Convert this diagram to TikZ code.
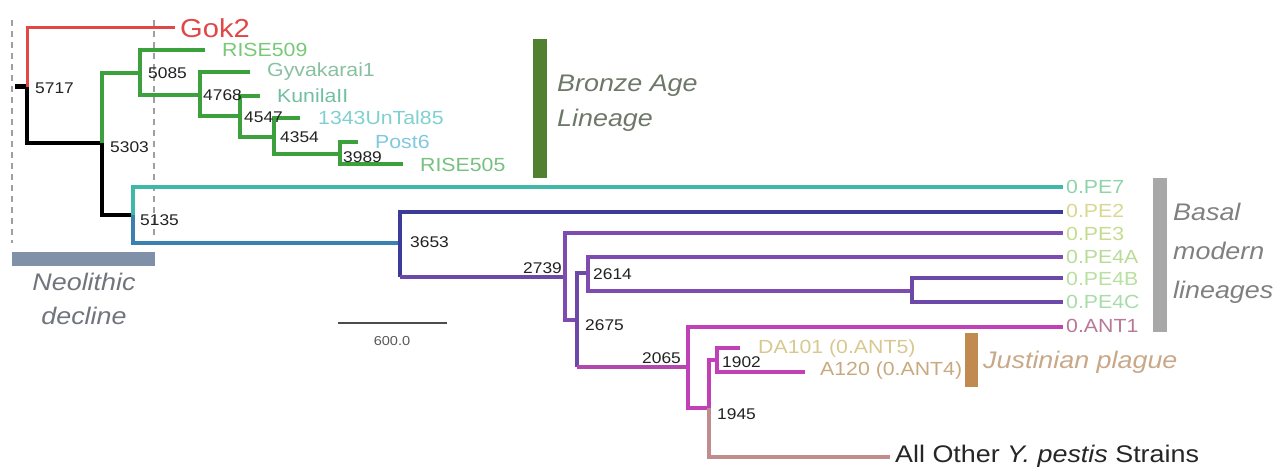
\documentclass[tikz,border=0pt]{standalone}
\usepackage{fontspec}
\setmainfont{Liberation Sans}[FakeStretch=1.12]
\definecolor{cred}{HTML}{E04848}
\definecolor{cgrn}{HTML}{3CA03C}
\definecolor{cteal}{HTML}{40B8A8}
\definecolor{csteel}{HTML}{3A80B0}
\definecolor{cdblue}{HTML}{3C3C98}
\definecolor{cpurp}{HTML}{6C48A8}
\definecolor{cpurp2}{HTML}{7E4CB0}
\definecolor{cmag}{HTML}{C040B8}
\definecolor{cmag2}{HTML}{B048B0}
\definecolor{cbrown}{HTML}{C08C8C}
\definecolor{cnum}{HTML}{222222}
\definecolor{t509}{HTML}{78C878}
\definecolor{tgyv}{HTML}{88C0A0}
\definecolor{tkun}{HTML}{70C0A0}
\definecolor{tunt}{HTML}{80D0D0}
\definecolor{tpost}{HTML}{80C8E0}
\definecolor{t505}{HTML}{78C080}
\definecolor{tpe7}{HTML}{8FD4A8}
\definecolor{tpe2}{HTML}{D8D890}
\definecolor{tpe3}{HTML}{C4DC90}
\definecolor{tpe4a}{HTML}{B8DC98}
\definecolor{tpe4b}{HTML}{B8E0A0}
\definecolor{tpe4c}{HTML}{A8DCA8}
\definecolor{tant1}{HTML}{B87898}
\definecolor{tda}{HTML}{D8C890}
\definecolor{ta120}{HTML}{C8AA80}
\definecolor{neobar}{HTML}{8090A8}
\definecolor{neotxt}{HTML}{70757D}
\definecolor{brzbar}{HTML}{508030}
\definecolor{brztxt}{HTML}{6E7868}
\definecolor{basbar}{HTML}{A8A8A8}
\definecolor{bastxt}{HTML}{808080}
\definecolor{jusbar}{HTML}{C08A50}
\definecolor{justxt}{HTML}{C8A888}
\tikzset{
  br/.style={line width=3.5pt},
  leaf/.style={anchor=west,inner sep=0pt,font=\fontsize{19}{22}\selectfont},
  num/.style={anchor=west,inner sep=0pt,text=cnum,font=\fontsize{15.5}{18}\selectfont},
  annot/.style={anchor=west,inner sep=0pt,font=\fontsize{24}{28}\selectfont\itshape,align=left},
  guide/.style={draw=gray!75,line width=2pt,dash pattern=on 6pt off 5pt},
}
\begin{document}
\begin{tikzpicture}[x=1pt,y=-1pt]
\useasboundingbox (0,0) rectangle (1279,470);
% guide lines
\draw[guide] (12,20) -- (12,243);
\draw[guide] (154,20) -- (154,238);
% root
\coordinate (root) at (27,87);
\draw[black,line width=5pt] (15,87) -- (root);
\draw[cred,line width=3pt] (root) |- (175,28) coordinate (gok);
\draw[black,br] (root) |- (102,143) coordinate (n5303);
% bronze age clade
\draw[cgrn,br] (n5303) |- (140,73) coordinate (n5085);
\draw[cgrn,br] (205,50) coordinate (l509) -| (140,95) -- (200,95) coordinate (n4768);
\draw[cgrn,br] (250,72) coordinate (lgyv) -| (200,116) -- (240,116) coordinate (n4547);
\draw[cgrn,br] (260,96) coordinate (lkun) -| (240,137) -- (274,137) coordinate (n4354);
\draw[cgrn,br] (300,118) coordinate (lunt) -| (274,154) -- (340,154) coordinate (n3989);
\draw[cgrn,br] (358,142) coordinate (lpost) -| (340,164) -- (403,164) coordinate (l505);
% modern
\draw[black,br] (n5303) |- (133,215) coordinate (n5135);
\draw[cteal,br] (1063,187) coordinate (lpe7) -| (n5135);
\draw[csteel,br] (n5135) |- (400,243) coordinate (n3653);
\draw[cdblue,br] (1063,212) coordinate (lpe2) -| (400,277);
\draw[cpurp,br] (400,277) -- (565,277) coordinate (n2739);
\draw[cpurp2,br] (1063,233) coordinate (lpe3) -| (565,320) -- (577,320);
\draw[cpurp,br] (588,273) coordinate (n2614) -| (577,367);
\draw[cpurp2,br] (1063,257) coordinate (lpe4a) -| (588,291) -- (912,291) coordinate (n4bc);
\draw[cpurp,br] (1063,278) coordinate (lpe4b) -| (912,302) -- (1063,302) coordinate (lpe4c);
\draw[cmag2,br] (577,367) -- (688,367) coordinate (n2065);
\draw[cmag,br] (1063,327) coordinate (lant1) -| (688,408) -- (709,408) coordinate (n1945);
\draw[cmag,br] (717,360) -| (709,408);
\draw[cbrown,br] (n1945) |- (890,457) coordinate (lother);
\draw[cmag,br] (740,348) coordinate (lda) -| (717,372) -- (805,372) coordinate (la120);
% leaf labels
\node[anchor=west,inner sep=0pt,text=cred,font=\fontsize{26}{30}\selectfont] (tgok) at (180,28) {Gok2};
\node[leaf,text=t509] (n509) at (222,50) {RISE509};
\node[leaf,text=tgyv] (ngyv) at (267,72) {Gyvakarai1};
\node[leaf,text=tkun] (nkun) at (277,96) {KunilaII};
\node[leaf,text=tunt] (nunt) at (318,118) {1343UnTal85};
\node[leaf,text=tpost] (npost) at (375,142) {Post6};
\node[leaf,text=t505] (n505) at (420,165) {RISE505};
\node[leaf,text=tpe7] (npe7) at (1066,187) {0.PE7};
\node[leaf,text=tpe2] (npe2) at (1066,211) {0.PE2};
\node[leaf,text=tpe3] (npe3) at (1066,234) {0.PE3};
\node[leaf,text=tpe4a] (npe4a) at (1066,257) {0.PE4A};
\node[leaf,text=tpe4b] (npe4b) at (1066,279) {0.PE4B};
\node[leaf,text=tpe4c] (npe4c) at (1066,302) {0.PE4C};
\node[leaf,text=tant1] (nant1) at (1066,326) {0.ANT1};
\node[leaf,text=tda] (nda) at (758,349) {DA101 (0.ANT5)};
\node[leaf,text=ta120] (na120) at (820,371) {A120 (0.ANT4)};
\node[anchor=west,inner sep=0pt,text=black!85,font=\fontsize{24}{28}\selectfont] (tother) at (895,456) {All Other \textit{Y. pestis} Strains};
% node ages
\node[num] (a5717) at (35,88) {5717};
\node[num] (a5303) at (110,147) {5303};
\node[num] (a5085) at (148,73) {5085};
\node[num] (a4768) at (203,95) {4768};
\node[num] (a4547) at (244,117) {4547};
\node[num] (a4354) at (280,137) {4354};
\node[num] (a3989) at (343,157) {3989};
\node[num] (a5135) at (140,220) {5135};
\node[num] (a3653) at (410,242) {3653};
\node[num] (a2739) at (523,268) {2739};
\node[num] (a2614) at (593,274) {2614};
\node[num] (a2675) at (585,325) {2675};
\node[num] (a2065) at (642,358) {2065};
\node[num] (a1902) at (722,362) {1902};
\node[num] (a1945) at (717,414) {1945};
% scale bar
\coordinate (sb1) at (338,323);
\coordinate (sb2) at (447,323);
\draw[black!70,line width=1.5pt] (sb1) -- (sb2);
\node[inner sep=0pt,text=black!65,font=\fontsize{13}{15}\selectfont] (tscale) at (392,341) {600.0};
% annotations
\fill[neobar] (12,252) rectangle (155,266);
\node[inner sep=0pt,text=neotxt,font=\fontsize{24}{34}\selectfont\itshape,align=center] (tneo) at (84,299) {Neolithic\\decline};
\fill[brzbar] (533,39) rectangle (547,178);
\node[annot,text=brztxt,font=\fontsize{24}{35}\selectfont\itshape] (tbronze) at (557,103) {Bronze Age\\Lineage};
\fill[basbar] (1153,178) rectangle (1167,332);
\node[annot,text=bastxt,font=\fontsize{24}{39}\selectfont\itshape] (tbasal) at (1173,253) {Basal\\modern\\lineages};
\fill[jusbar] (965,333) rectangle (978,387);
\node[annot,text=justxt] (tjust) at (983,362) {Justinian plague};
\end{tikzpicture}
\end{document}
